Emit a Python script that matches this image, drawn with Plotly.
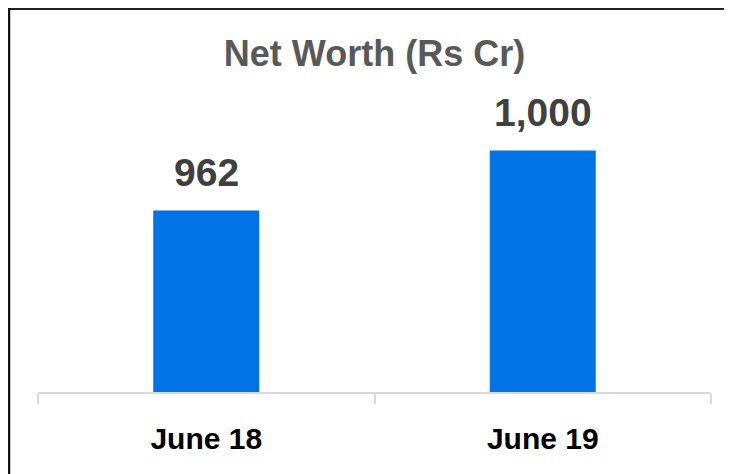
import plotly.graph_objects as go

categories = ["June 18", "June 19"]
net_worth = [962, 1000]
title_text = "Net Worth (Rs Cr)"

OFF = 8  # page body margin offset compensation
W, H = 732 - OFF, 474 - OFF
ml, mt = 38 - OFF, 90 - OFF
pw, ph = 673, 302
mr, mb = W - ml - pw, H - mt - ph

FONT = "Liberation Sans Narrow, Arial Narrow, sans-serif"

fig = go.Figure(go.Bar(
    x=categories, y=net_worth,
    marker=dict(color="#0073E6", line=dict(width=0)),
    width=0.315,
    hoverinfo="skip",
))

for c, v in zip(categories, net_worth):
    fig.add_annotation(x=c, y=v, text=f"<b>{v:,}</b>", showarrow=False,
                       yanchor="bottom", yshift=14,
                       font=dict(family=FONT, size=39, color="#404040"))

def px_x(px):
    return (px - ml) / pw

def px_y(py):
    return (H - mb - py) / ph

fig.add_shape(type="line", xref="paper", yref="paper",
              x0=px_x(0), x1=px_x(W + 10), y0=px_y(1), y1=px_y(1),
              line=dict(color="#222222", width=2))
fig.add_shape(type="line", xref="paper", yref="paper",
              x0=px_x(1), x1=px_x(1), y0=px_y(0), y1=px_y(H + 10),
              line=dict(color="#111111", width=2.5))

fig.update_layout(
    width=W, height=H,
    margin=dict(l=ml, r=mr, t=mt, b=mb),
    paper_bgcolor="white", plot_bgcolor="white",
    showlegend=False,
    title=dict(text=f"<b>{title_text}</b>", x=0.5, xref="paper",
               y=1 - (53 - OFF) / H, yref="container", yanchor="middle",
               font=dict(family=FONT, size=36, color="#595959")),
    xaxis=dict(
        showline=True, linecolor="#D9D9D9", linewidth=1.5,
        ticks="outside", tickson="boundaries", ticklen=10,
        tickcolor="#D9D9D9", tickwidth=1.5,
        tickfont=dict(family=FONT, size=30, color="#000000"),
        tickprefix="<b>", ticksuffix="</b>",
        showgrid=False, zeroline=False,
    ),
    yaxis=dict(range=[847, 1038.3], visible=False, showgrid=False, zeroline=False),
)
fig.update_xaxes(ticklabelstandoff=19)

fig.write_html("out.html", config={"displayModeBar": False})
